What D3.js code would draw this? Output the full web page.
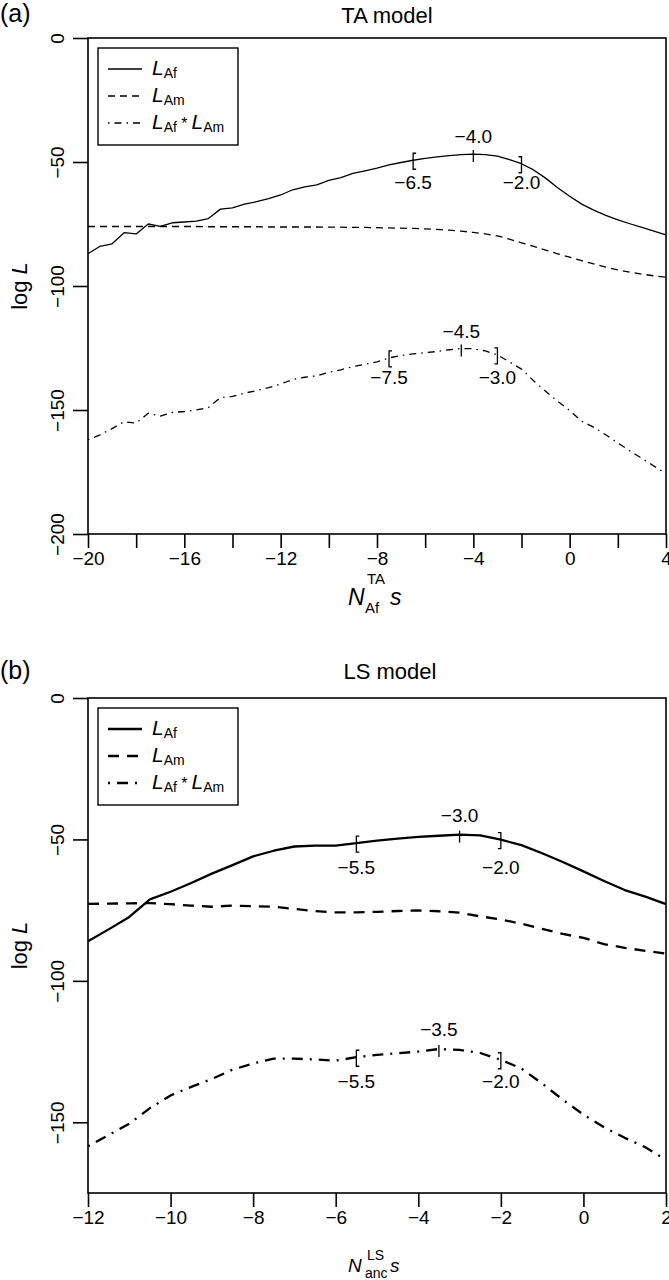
<!DOCTYPE html>
<html><head><meta charset="utf-8">
<script src="https://cdn.jsdelivr.net/npm/d3@7"></script>
<style>body{margin:0;background:#fff} svg{display:block;background:#fff} text{font-family:"Liberation Sans",Arial,Helvetica,sans-serif;fill:#000}</style>
</head><body>
<svg id="c" width="669" height="1280"></svg>
<script>
// ---------- data: (a) TA model ----------
const xTA = [-20,-19.5,-19,-18.5,-18,-17.5,-17,-16.5,-16,-15.5,-15,-14.5,-14,-13.5,-13,-12.5,-12,-11.5,-11,-10.5,-10,-9.5,-9,-8.5,-8,-7.5,-7,-6.5,-6,-5.5,-5,-4.5,-4,-3.5,-3,-2.5,-2,-1.5,-1,-0.5,0,0.5,1,1.5,2,2.5,3,3.5,4];
const taLAf = [-87,-84,-83,-78.5,-79,-75,-76,-74.5,-74.2,-73.8,-72.8,-69,-68.5,-67,-66,-64.8,-63.3,-61.2,-60,-59.2,-57.4,-56.3,-54.6,-53.6,-52.5,-51.2,-50.2,-49.3,-48.5,-47.9,-47.4,-47,-46.8,-47,-47.6,-49,-50.7,-53.2,-56.5,-60.4,-63.8,-67,-69.4,-71.5,-73.3,-74.9,-76.4,-77.9,-79.4];
const taLAm = [-76,-76,-76,-76,-76,-76,-76,-76,-76,-76,-76.1,-76.1,-76.1,-76.1,-76.1,-76.2,-76.2,-76.2,-76.2,-76.2,-76.3,-76.3,-76.4,-76.4,-76.5,-76.6,-76.7,-76.8,-77,-77.2,-77.5,-77.9,-78.4,-79,-79.8,-81.1,-82.6,-84,-85.5,-87,-88.4,-89.8,-91.1,-92.4,-93.5,-94.4,-95.2,-95.9,-96.5];
const taProd = [-162,-160,-157.5,-154.7,-155.3,-151.3,-152.5,-151,-150.6,-150,-149,-145,-144.5,-143.2,-142.2,-141,-139.5,-137.7,-136.8,-136.2,-134.8,-133.8,-132.5,-131.6,-130.6,-129,-128,-127.4,-126.9,-126.4,-125.7,-125.2,-125.3,-126.2,-127.8,-130.6,-133.5,-138.2,-142.4,-146.5,-150.2,-154.5,-157,-160,-163.3,-166.5,-169.5,-172.6,-175.6];
const taXTicks = [-20,-18,-16,-14,-12,-10,-8,-6,-4,-2,0,2,4];
const taXLabels = [-20,-16,-12,-8,-4,0,4];
const taYTicks = [0,-50,-100,-150,-200];
const taMarksAf = [-6.5,-4.0,-2.0];   // low, peak, high
const taMarksProd = [-7.5,-4.5,-3.0];

// ---------- data: (b) LS model ----------
const xLS = [-12,-11.5,-11,-10.5,-10,-9.5,-9,-8.5,-8,-7.5,-7,-6.5,-6,-5.5,-5,-4.5,-4,-3.5,-3,-2.5,-2,-1.5,-1,-0.5,0,0.5,1,1.5,2];
const lsLAf = [-86,-81.8,-77.4,-71.2,-68.5,-65.4,-62.1,-59.1,-56,-54,-52.5,-52.2,-52.2,-51.3,-50.4,-49.7,-49.1,-48.7,-48.3,-48.6,-50.1,-52,-54.9,-58,-61.3,-64.7,-67.9,-70.2,-72.9];
const lsLAm = [-72.8,-72.7,-72.6,-72.5,-72.9,-73.4,-73.8,-73.4,-73.6,-73.8,-74.6,-75.3,-75.8,-75.8,-75.6,-75.3,-75.1,-75.4,-75.9,-77.2,-78.3,-79.8,-81.6,-83.4,-84.8,-87,-88.3,-89.4,-90.4];
const lsProd = [-158.5,-154.5,-150.5,-145,-140.5,-137.5,-134.7,-131.4,-129.2,-127.5,-127.5,-127.8,-128.2,-127,-126.2,-125.6,-125,-124.1,-124.4,-125.5,-127.9,-131,-136.3,-142,-147.3,-151.8,-155.5,-158.8,-163.3];
const lsXTicks = [-12,-10,-8,-6,-4,-2,0,2];
const lsXLabels = [-12,-10,-8,-6,-4,-2,0,2];
const lsYTicks = [0,-50,-100,-150];
const lsMarksAf = [-5.5,-3.0,-2.0];
const lsMarksProd = [-5.5,-3.5,-2.0];

const svg = d3.select("#c");
const fmt1 = d3.format(".1f");
const FF = '"Liberation Sans",Arial,sans-serif';

function panel(cfg){
  const g = svg.append("g");
  const x = d3.scaleLinear().domain(cfg.xDom).range([88,666]);
  const y = d3.scaleLinear().domain(cfg.yDom).range([cfg.bottom, cfg.top]);
  const lw = cfg.lw;

  // panel tag and title
  g.append("text").attr("x",0).attr("y",cfg.tagY).attr("font-size",25).text(cfg.tag);
  g.append("text").attr("x",cfg.titleX).attr("y",cfg.titleY).attr("font-size",22).attr("text-anchor","middle").text(cfg.title);

  // axes
  const xa = g.append("g").attr("transform",`translate(0,${cfg.bottom})`)
    .call(d3.axisBottom(x).tickValues(cfg.xTicks).tickSize(14).tickSizeOuter(0)
      .tickFormat(d => cfg.xLabels.includes(d) ? d3.format("d")(d) : ""));
  xa.select(".domain").remove();
  xa.selectAll("line").attr("stroke","#000").attr("stroke-width",1.6);
  xa.selectAll("text").attr("y",31).attr("dy",null).attr("font-size",19)
    .attr("font-family",FF).attr("fill","#000");

  const ya = g.append("g").attr("transform","translate(88,0)")
    .call(d3.axisLeft(y).tickValues(cfg.yTicks).tickSize(15).tickSizeOuter(0).tickFormat(d3.format("d")));
  ya.select(".domain").remove();
  ya.selectAll("line").attr("stroke","#000").attr("stroke-width",1.6);
  ya.selectAll("text").attr("x",null).attr("dy",null).attr("text-anchor","middle")
    .attr("transform","translate(-24,0) rotate(-90)").attr("font-size",19)
    .attr("font-family",FF).attr("fill","#000");

  // box
  g.append("rect").attr("x",88).attr("y",cfg.top).attr("width",578).attr("height",cfg.bottom-cfg.top)
    .attr("fill","none").attr("stroke","#000").attr("stroke-width",1.6);

  // y title
  const yt = g.append("text").attr("transform",`translate(27,${(cfg.top+cfg.bottom)/2}) rotate(-90)`)
    .attr("text-anchor","middle").attr("font-size",22);
  yt.append("tspan").text("log ");
  yt.append("tspan").attr("font-style","italic").text("L");

  // x title
  const c = cfg.xtCenter, b = cfg.xtBase, s = cfg.xtSize, ss = cfg.xtSub;
  g.append("text").attr("x",c-29).attr("y",b).attr("font-size",s).attr("font-style","italic").text("N");
  g.append("text").attr("x",c-10).attr("y",b-cfg.supUp).attr("font-size",ss).text(cfg.sup);
  g.append("text").attr("x",c-12).attr("y",b+cfg.subDown).attr("font-size",ss).text(cfg.sub);
  g.append("text").attr("x",c+13).attr("y",b).attr("font-size",s).attr("font-style","italic").text("s");

  // lines
  const series = [
    {v:cfg.af, dash:null},
    {v:cfg.am, dash:cfg.dash},
    {v:cfg.prod, dash:cfg.dashdot}
  ];
  series.forEach(sr => {
    const line = d3.line().x((d,i)=>x(cfg.xs[i])).y(d=>y(d));
    g.append("path").datum(sr.v).attr("d",line).attr("fill","none").attr("stroke","#000")
      .attr("stroke-width",lw).attr("stroke-dasharray",sr.dash).attr("stroke-linejoin","round");
  });

  // marks [ | ]
  function marks(vals, m){
    const val = xv => vals[cfg.xs.indexOf(xv)];
    const peakV = val(m[1]);
    m.forEach((xv,i)=>{
      const px = x(xv), py = y(val(xv));
      let d;
      if(i===0) d = `M${px+3},${py-7}H${px}V${py+9}H${px+3}`;
      else if(i===2) d = `M${px-3},${py-7}H${px}V${py+9}H${px-3}`;
      else d = `M${px},${py-4}V${py+8}`;
      g.append("path").attr("d",d).attr("fill","none").attr("stroke","#000").attr("stroke-width",1.3);
      const ly = i===1 ? y(peakV+6.9) : y(peakV-11.5);
      g.append("text").attr("x",px).attr("y",ly).attr("dominant-baseline","central")
        .attr("text-anchor","middle").attr("font-size",19).text(fmt1(xv));
    });
  }
  marks(cfg.af, cfg.mAf);
  marks(cfg.prod, cfg.mProd);

  // legend
  const lt = cfg.top + 10;
  g.append("rect").attr("x",98).attr("y",lt).attr("width",140).attr("height",97)
    .attr("fill","#fff").attr("stroke","#000").attr("stroke-width",1.4);
  const entries = [
    {dash:null, parts:[["L","i"],["Af","sub"]]},
    {dash:cfg.dash, parts:[["L","i"],["Am","sub"]]},
    {dash:cfg.dashdot, parts:[["L","i"],["Af","sub"],[" *","ast"],[" ",""],["L","i"],["Am","sub"]]}
  ];
  const offs = [27,54,81];
  entries.forEach((e,i)=>{
    const by = lt + offs[i];
    g.append("line").attr("x1",108).attr("x2",142).attr("y1",by-6).attr("y2",by-6)
      .attr("stroke","#000").attr("stroke-width",lw).attr("stroke-dasharray",e.dash);
    const t = g.append("text").attr("x",152).attr("y",by).attr("font-size",21);
    let shifted = false;
    e.parts.forEach(p=>{
      const ts = t.append("tspan").text(p[0]);
      if(p[1]==="i"){ ts.attr("font-style","italic"); if(shifted){ts.attr("dy",-3); shifted=false;} }
      else if(p[1]==="sub"){ ts.attr("font-size",14).attr("dy",3); shifted=true; }
      else if(p[1]==="ast"){ ts.attr("font-size",16).attr("dy",-3); shifted=false; }
      else { ts.attr("font-size",14); }
    });
  });
}

panel({tag:"(a)", tagY:22, title:"TA model", titleX:387, titleY:23, top:38, bottom:534, xDom:[-20,4], yDom:[-200,0],
  xTicks:taXTicks, xLabels:taXLabels, yTicks:taYTicks, lw:1.3,
  dash:"7,5", dashdot:"1.5,5,7,5",
  xs:xTA, af:taLAf, am:taLAm, prod:taProd, mAf:taMarksAf, mProd:taMarksProd,
  xtCenter:377, xtBase:605, xtSize:23, xtSub:15, sup:"TA", sub:"Af", supUp:21, subDown:8});

panel({tag:"(b)", tagY:679, title:"LS model", titleX:390, titleY:679, top:698, bottom:1193, xDom:[-12,2], yDom:[-175,0],
  xTicks:lsXTicks, xLabels:lsXLabels, yTicks:lsYTicks, lw:2.3,
  dash:"11,8", dashdot:"2,7,11,7",
  xs:xLS, af:lsLAf, am:lsLAm, prod:lsProd, mAf:lsMarksAf, mProd:lsMarksProd,
  xtCenter:377, xtBase:1272, xtSize:19, xtSub:14, sup:"LS", sub:"anc", supUp:12, subDown:6});
</script>
</body></html>
